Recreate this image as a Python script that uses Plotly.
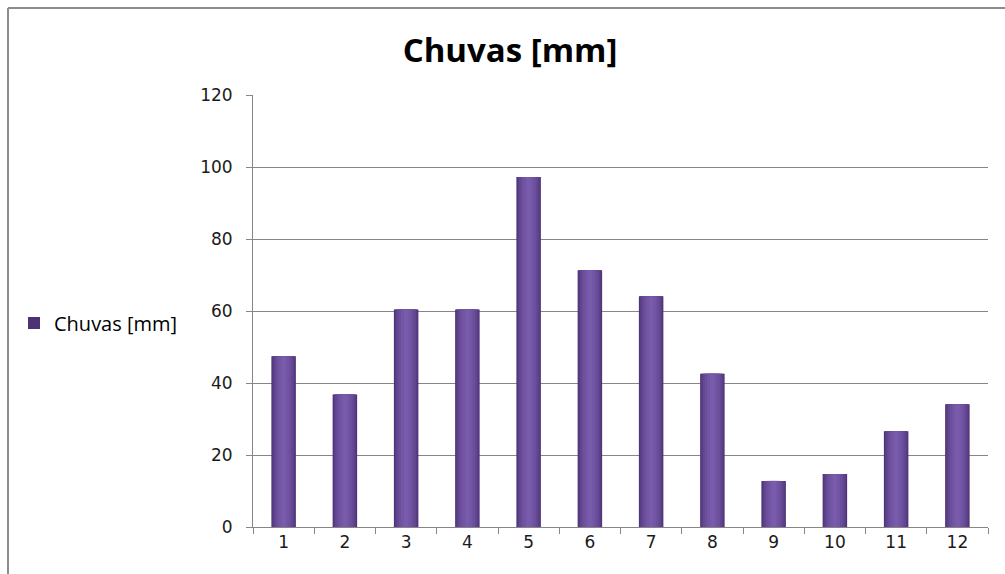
import plotly.graph_objects as go

# Monthly rainfall
months = ["1", "2", "3", "4", "5", "6", "7", "8", "9", "10", "11", "12"]
chuvas_mm = [47.4, 36.8, 60.4, 60.4, 97.2, 71.3, 64.1, 42.6, 12.8, 14.7, 26.6, 34.1]
y_ticks = [0, 20, 40, 60, 80, 100, 120]

series_name = "Chuvas [mm]"

# Layered bars (outer dark -> inner light) give a rounded, shaded column look
layers = [
    (0.40, "#4d3376", True),
    (0.37, "#583c84", False),
    (0.32, "#624690", False),
    (0.25, "#6b4f9b", False),
    (0.17, "#7255a4", False),
    (0.08, "#785baa", False),
]

fig = go.Figure()
for w, color, show in layers:
    fig.add_trace(go.Bar(
        x=months,
        y=chuvas_mm,
        width=w,
        name=series_name,
        showlegend=show,
        marker=dict(color=color, line=dict(width=0)),
        hoverinfo="x+y" if show else "skip",
    ))

# Plot-area geometry in pixels
W, H = 1005, 574
L, R, T, B = 253, 17, 95, 47
pw, ph = W - L - R, H - T - B

def px_x(px):
    return (px - L) / pw

def px_y(py):
    return (H - B - py) / ph

# outer chart frame (top and left edges)
frame_col = "#8c8c8c"
fig.add_shape(type="line", xref="paper", yref="paper",
              x0=px_x(8), x1=px_x(W + 5), y0=px_y(8), y1=px_y(8),
              line=dict(color=frame_col, width=2))
fig.add_shape(type="line", xref="paper", yref="paper",
              x0=px_x(8), x1=px_x(8), y0=px_y(8), y1=px_y(H + 5),
              line=dict(color=frame_col, width=2))

axis_col = "#868686"
tick_font = dict(family="DejaVu Sans", size=17, color="#1a1a1a")
fig.update_layout(
    width=W,
    height=H,
    barmode="overlay",
    plot_bgcolor="white",
    paper_bgcolor="white",
    margin=dict(l=L, r=R, t=T, b=B, pad=0),
    title=dict(
        text="<b>Chuvas [mm]</b>",
        font=dict(family="Open Sans", size=33, color="#000000"),
        x=px_x(510), xref="paper", xanchor="center",
        y=1 - 50 / H, yref="container", yanchor="middle",
    ),
    legend=dict(
        x=px_x(14), xanchor="left",
        y=px_y(323), yanchor="middle",
        font=dict(family="Open Sans", size=20, color="#000000"),
        bgcolor="rgba(0,0,0,0)",
        itemwidth=30,
        traceorder="normal",
    ),
    xaxis=dict(
        type="category",
        tickson="boundaries",
        ticks="outside",
        ticklen=6,
        tickcolor=axis_col,
        showline=True,
        linecolor=axis_col,
        linewidth=1,
        showgrid=False,
        tickfont=tick_font,
        fixedrange=True,
    ),
    yaxis=dict(
        range=[0, 120],
        tickvals=y_ticks,
        ticks="outside",
        ticklen=6,
        tickcolor=axis_col,
        showline=True,
        linecolor=axis_col,
        linewidth=1,
        showgrid=True,
        gridcolor=axis_col,
        gridwidth=1,
        zeroline=False,
        ticklabelstandoff=10,
        tickfont=tick_font,
        fixedrange=True,
    ),
)

fig.write_html("out.html")
